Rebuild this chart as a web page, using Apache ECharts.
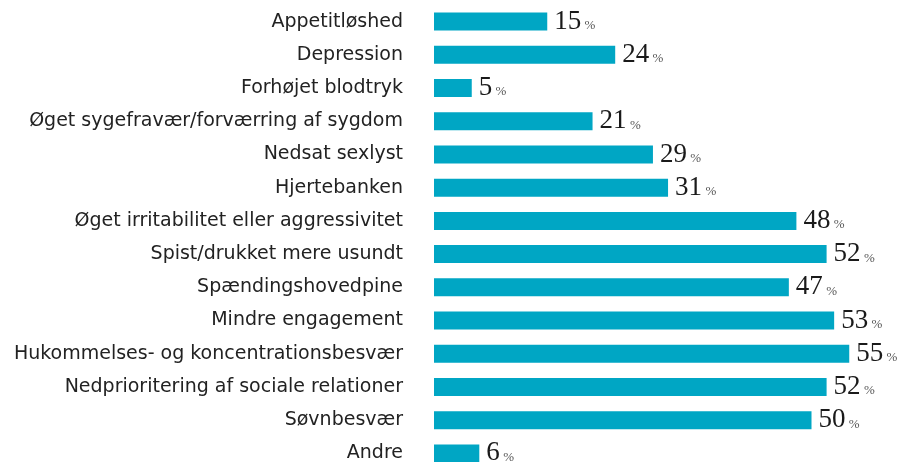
<!DOCTYPE html>
<html>
<head>
<meta charset="utf-8">
<script src="https://cdn.jsdelivr.net/npm/echarts@6/dist/echarts.min.js"></script>
<style>
  html, body { margin: 0; padding: 0; background: #fff; }
  #chart { width: 901px; height: 462px; }
</style>
</head>
<body>
<div id="chart"></div>
<script type="text/javascript">
var categories = [
    'Appetitløshed',
    'Depression',
    'Forhøjet blodtryk',
    'Øget sygefravær/forværring af sygdom',
    'Nedsat sexlyst',
    'Hjertebanken',
    'Øget irritabilitet eller aggressivitet',
    'Spist/drukket mere usundt',
    'Spændingshovedpine',
    'Mindre engagement',
    'Hukommelses- og koncentrationsbesvær',
    'Nedprioritering af sociale relationer',
    'Søvnbesvær',
    'Andre'
];
var values = [15, 24, 5, 21, 29, 31, 48, 52, 47, 53, 55, 52, 50, 6];

var myChart = echarts.init(document.getElementById('chart'));
var option = {
    animation: false,
    grid: {
        left: 434,
        top: 5,
        width: 453,
        height: 465,
        outerBoundsMode: 'none',
        containLabel: false
    },
    xAxis: {
        type: 'value',
        min: 0,
        max: 60,
        show: false
    },
    yAxis: {
        type: 'category',
        inverse: true,
        data: categories,
        axisLine: { show: false },
        axisTick: { show: false },
        axisLabel: {
            margin: 31,
            fontFamily: 'DejaVu Sans',
            fontSize: 19,
            color: '#222'
        }
    },
    series: [{
        type: 'bar',
        data: values,
        barWidth: 18,
        itemStyle: { color: '#00a6c4' },
        label: {
            show: true,
            position: 'right',
            distance: 7,
            formatter: '{v|{c}} {p|%}',
            rich: {
                v: {
                    fontFamily: 'Liberation Serif',
                    fontSize: 27,
                    color: '#1a1a1a'
                },
                p: {
                    fontFamily: 'Liberation Serif',
                    fontSize: 13,
                    color: '#555',
                    padding: [8, 0, 0, 0]
                }
            }
        }
    }]
};
myChart.setOption(option);
</script>
</body>
</html>
